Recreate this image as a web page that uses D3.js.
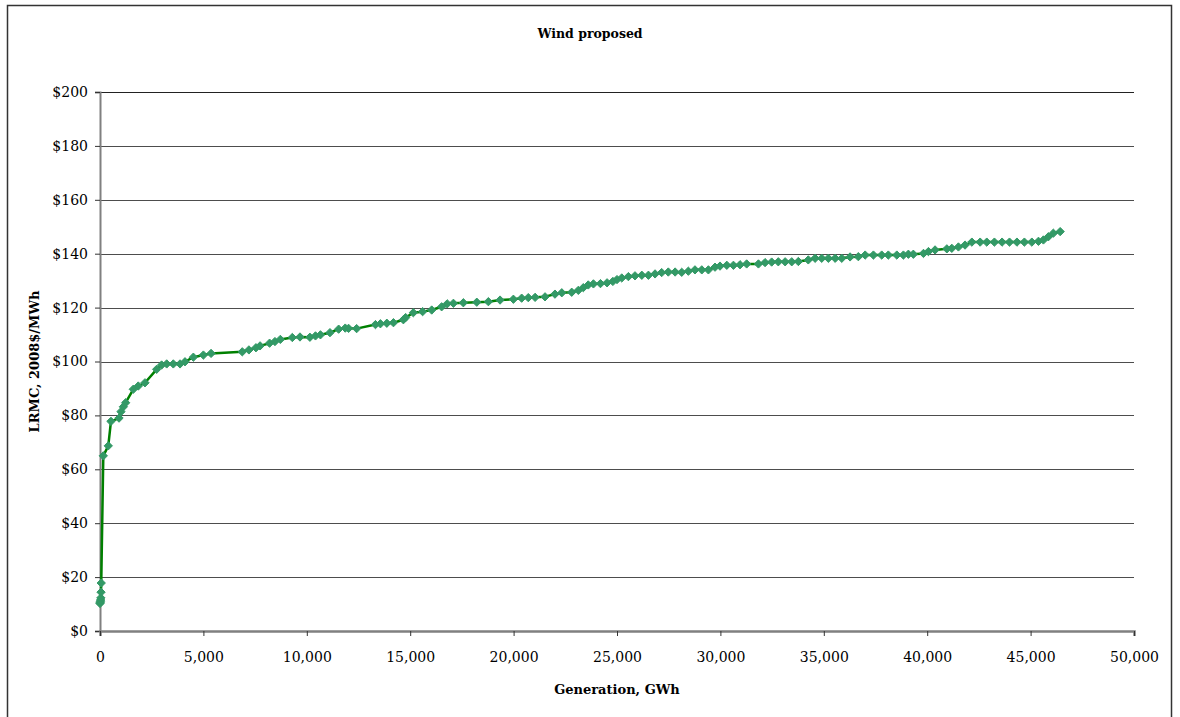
<!DOCTYPE html>
<html>
<head>
<meta charset="utf-8">
<script src="https://cdn.jsdelivr.net/npm/d3@7"></script>
<style>
  html, body { margin: 0; padding: 0; background: #fff; }
  svg { display: block; }
  text { font-family: "DejaVu Serif", "Liberation Serif", serif; fill: #000; }
</style>
</head>
<body>
<svg id="chart" width="1180" height="717"></svg>
<script>
// ---- data ----
const title = "Wind proposed";
const xLabel = "Generation, GWh";
const yLabel = "LRMC, 2008$/MWh";
const xTicks = [0, 5000, 10000, 15000, 20000, 25000, 30000, 35000, 40000, 45000, 50000];
const yTicks = [0, 20, 40, 60, 80, 100, 120, 140, 160, 180, 200];
const generation = [
  0, 10, 20, 30, 40, 50, 60, 160, 400, 530, 920, 1015, 1130, 1240, 1610, 1850, 2175,
  2740, 2980, 3225, 3545, 3870, 4110, 4515, 5000, 5370, 6880, 7200, 7540, 7740, 8200,
  8460, 8720, 9300, 9670, 10150, 10420, 10660, 11120, 11540, 11860, 12020, 12410,
  13320, 13560, 13870, 14190, 14670, 14780, 15150, 15600, 16040, 16520, 16790, 17090,
  17570, 18220, 18780, 19345, 19990, 20390, 20710, 21040, 21520, 22000, 22330, 22810,
  23130, 23370, 23610, 23860, 24200, 24520, 24800, 25000, 25230, 25550, 25870, 26200,
  26520, 26840, 27160, 27480, 27810, 28130, 28450, 28770, 29100, 29420, 29740, 29980,
  30310, 30630, 30950, 31270, 31840, 32160, 32480, 32800, 33130, 33450, 33770, 34250,
  34580, 34900, 35220, 35550, 35870, 36270, 36670, 37000, 37400, 37800, 38120, 38530,
  38850, 39090, 39330, 39820, 40060, 40380, 40950, 41190, 41510, 41830, 42160, 42560,
  42880, 43250, 43620, 43980, 44340, 44700, 45060, 45380, 45620, 45860, 46100, 46430
];
const lrmc = [
  10.2, 10.6, 11.0, 11.5, 12.3, 14.4, 17.8, 65, 68.7, 77.8, 79, 81.4, 83.2, 84.7, 89.7, 90.9, 92.1,
  97.1, 98.7, 99.1, 99.1, 99.1, 99.9, 101.6, 102.4, 103, 103.6, 104.3, 105.1, 105.8, 106.8,
  107.4, 108.2, 108.9, 109.1, 109, 109.5, 109.9, 110.7, 112, 112.4, 112.3, 112.2,
  113.7, 114, 114.2, 114.4, 115.5, 116.3, 118.1, 118.5, 119.1, 120.3, 121.4, 121.6,
  121.8, 122.0, 122.2, 122.8, 123.1, 123.5, 123.7, 123.8, 124, 125, 125.5, 125.7,
  126.4, 127.4, 128.4, 128.8, 128.9, 129.2, 129.7, 130.4, 131.0, 131.5, 131.8, 132.0,
  132.0, 132.5, 133.0, 133.2, 133.2, 133.1, 133.5, 134, 134, 134, 135, 135.4,
  135.7, 135.7, 135.9, 136.2, 136.2, 136.7, 136.9, 137, 137, 137, 137.1, 137.7,
  138.3, 138.3, 138.3, 138.3, 138.3, 138.8, 138.9, 139.5, 139.5, 139.5, 139.5, 139.5,
  139.5, 139.8, 139.8, 140.1, 140.8, 141.4, 141.8, 142, 142.5, 143.2, 144.3, 144.3,
  144.3, 144.3, 144.3, 144.3, 144.3, 144.3, 144.3, 144.6, 145.1, 146.3, 147.6, 148.2
];

// ---- drawing ----
const svg = d3.select("#chart");
const plot = { left: 100, right: 1134, top: 92, bottom: 631 };

// outer frame
svg.append("rect")
  .attr("x", 7.5).attr("y", 5.5)
  .attr("width", 1164).attr("height", 730)
  .attr("fill", "#fff").attr("stroke", "#333").attr("stroke-width", 1.5);

const x = d3.scaleLinear().domain([0, 50000]).range([plot.left, plot.right]);
const y = d3.scaleLinear().domain([0, 200]).range([plot.bottom, plot.top]);

// gridlines
svg.append("g").selectAll("line")
  .data(yTicks.filter(d => d > 0))
  .join("line")
  .attr("x1", plot.left).attr("x2", plot.right)
  .attr("y1", d => Math.round(y(d)) + 0.5).attr("y2", d => Math.round(y(d)) + 0.5)
  .attr("stroke", d => d === 200 ? "#222" : "#4d4d4d").attr("stroke-width", 1);

// y axis
const fmtY = d => "$" + d3.format("d")(d);
const yAxis = svg.append("g")
  .attr("transform", `translate(${plot.left},0)`)
  .call(d3.axisLeft(y).tickValues(yTicks).tickFormat(fmtY).tickSize(5).tickPadding(7));
yAxis.select(".domain").attr("stroke", "#808080").attr("stroke-width", 2);
yAxis.selectAll(".tick line").attr("stroke", "#333");
yAxis.selectAll(".tick text")
  .style("font-family", '"DejaVu Serif", serif')
  .style("font-size", "14px").attr("fill", "#111");

// x axis
const fmtX = d3.format(",");
const xAxis = svg.append("g")
  .attr("transform", `translate(0,${plot.bottom})`)
  .call(d3.axisBottom(x).tickValues(xTicks).tickFormat(fmtX).tickSize(5).tickPadding(16));
xAxis.select(".domain").attr("stroke", "#808080").attr("stroke-width", 2.5);
xAxis.selectAll(".tick line").attr("stroke", "#333");
xAxis.selectAll(".tick text")
  .style("font-family", '"DejaVu Serif", serif')
  .style("font-size", "14px").attr("fill", "#111");

// line
const pts = generation.map((g, i) => [g, lrmc[i]]);
svg.append("path")
  .datum(pts)
  .attr("fill", "none")
  .attr("stroke", "#008000")
  .attr("stroke-width", 2.5)
  .attr("stroke-linejoin", "round")
  .attr("d", d3.line().x(d => x(d[0])).y(d => y(d[1])));

// diamond markers
const diamond = d3.symbol().type(d3.symbolDiamond2).size(44);
svg.append("g").selectAll("path")
  .data(pts)
  .join("path")
  .attr("transform", d => `translate(${x(d[0])},${y(d[1])})`)
  .attr("d", diamond)
  .attr("fill", "#339966")
  .attr("stroke", "#339966")
  .attr("stroke-width", 1);

// title and axis labels
svg.append("text")
  .attr("x", 590).attr("y", 38)
  .attr("text-anchor", "middle")
  .style("font-size", "12.5px").style("font-weight", "bold")
  .text(title);

svg.append("text")
  .attr("x", (plot.left + plot.right) / 2).attr("y", 694)
  .attr("text-anchor", "middle")
  .style("font-size", "13px").style("font-weight", "bold")
  .text(xLabel);

svg.append("text")
  .attr("transform", `translate(39,${(plot.top + plot.bottom) / 2}) rotate(-90)`)
  .attr("text-anchor", "middle")
  .style("font-size", "13px").style("font-weight", "bold")
  .text(yLabel);
</script>
</body>
</html>
